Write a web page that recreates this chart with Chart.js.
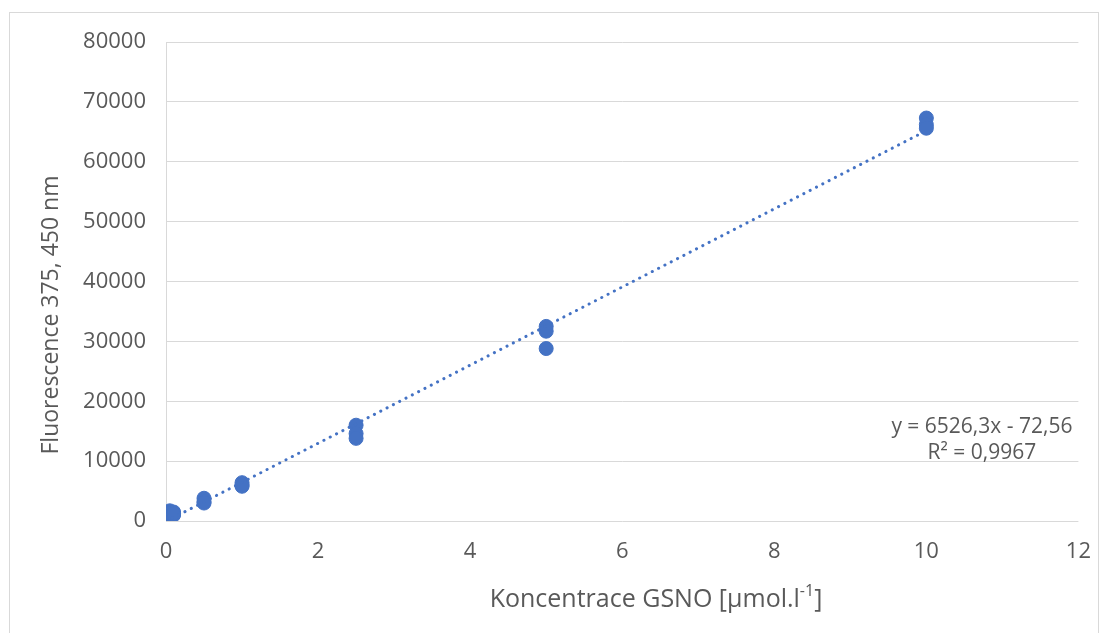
<!DOCTYPE html>
<html>
<head>
<meta charset="utf-8">
<script src="https://cdn.jsdelivr.net/npm/chart.js@4"></script>
<style>
  html, body { margin: 0; padding: 0; background: #fff; }
  #wrap { width: 1109px; height: 633px; }
</style>
</head>
<body>
<div id="wrap"><canvas id="chart"></canvas></div>
<script>
// measured points: concentration (µmol/l) and fluorescence
const concX = [0, 0, 0, 0.05, 0.05, 0.1, 0.1, 0.1, 0.5, 0.5, 0.5, 1, 1, 1, 2.5, 2.5, 2.5, 5, 5, 5, 10, 10, 10];
const fluorY = [200, 600, 900, 1700, 1300, 1500, 1000, 1200, 3800, 3200, 3000, 6400, 6000, 5800, 16000, 14600, 13800, 32500, 31700, 28800, 67300, 66200, 65600];

// linear trendline endpoints (y = 6526,3x - 72,56)
const trendX = [0, 10];
const trendY = [-73, 65190];

const xTicks = [0, 2, 4, 6, 8, 10, 12];
const yTicks = [0, 10000, 20000, 30000, 40000, 50000, 60000, 70000, 80000];

const eqLines = ['y = 6526,3x - 72,56', 'R\u00B2 = 0,9967'];
const yTitle = 'Fluorescence 375, 450 nm';
const xTitle = ['Koncentrace GSNO [\u00B5mol.l', '-1', ']'];

const blue = '#4472C4';
const grey = '#595959';
const gridCol = '#d9d9d9';
const fontFam = '"Open Sans", "Liberation Sans", sans-serif';

const points = concX.map((x, i) => ({x: x, y: fluorY[i]}));
const trend = trendX.map((x, i) => ({x: x, y: trendY[i]}));

const frame = {
  id: 'frame',
  beforeDraw(chart) {
    const c = chart.ctx;
    c.save();
    c.fillStyle = '#fff';
    c.fillRect(0, 0, chart.width, chart.height);
    c.strokeStyle = gridCol;
    c.lineWidth = 1;
    c.strokeRect(9.5, 12.5, 1089, 640);
    c.restore();
  },
  afterDraw(chart) {
    const c = chart.ctx;
    const area = chart.chartArea;
    c.save();
    c.fillStyle = grey;

    // trendline equation
    c.font = '21px ' + fontFam;
    c.textBaseline = 'middle';
    c.textAlign = 'right';
    c.fillText(eqLines[0], area.right - 6, 427);
    c.textAlign = 'center';
    const w = c.measureText(eqLines[0]).width;
    c.fillText(eqLines[1], area.right - 6 - w / 2, 453);

    // y axis title
    c.save();
    c.translate(51, 315);
    c.rotate(-Math.PI / 2);
    c.font = '23px ' + fontFam;
    c.textAlign = 'center';
    c.fillText(yTitle, 0, 0);
    c.restore();

    // x axis title with superscript
    c.textAlign = 'left';
    c.font = '25px ' + fontFam;
    const w0 = c.measureText(xTitle[0]).width;
    const w2 = c.measureText(xTitle[2]).width;
    c.font = '16px ' + fontFam;
    const w1 = c.measureText(xTitle[1]).width;
    let x = 656 - (w0 + w1 + w2) / 2;
    c.font = '25px ' + fontFam;
    c.fillText(xTitle[0], x, 600);
    x += w0;
    c.font = '16px ' + fontFam;
    c.fillText(xTitle[1], x, 591);
    x += w1;
    c.font = '25px ' + fontFam;
    c.fillText(xTitle[2], x, 600);
    c.restore();
  }
};

new Chart(document.getElementById('chart'), {
  type: 'scatter',
  data: {
    datasets: [
      {
        type: 'line',
        label: 'Trend',
        data: trend,
        borderColor: blue,
        borderWidth: 3,
        borderDash: [0.1, 7],
        borderCapStyle: 'round',
        pointRadius: 0,
        fill: false,
        tension: 0
      },
      {
        label: 'Fluorescence',
        data: points,
        backgroundColor: blue,
        borderColor: blue,
        pointRadius: 7,
        pointHoverRadius: 7
      }
    ]
  },
  options: {
    responsive: true,
    maintainAspectRatio: false,
    animation: false,
    layout: { padding: { left: 0, top: 42, right: 28, bottom: 0 } },
    plugins: {
      legend: { display: false },
      tooltip: { enabled: false }
    },
    scales: {
      x: {
        type: 'linear',
        min: 0,
        max: 12,
        afterBuildTicks: (s) => { s.ticks = xTicks.map(v => ({value: v})); },
        afterFit: (s) => { s.height = 112; },
        grid: { display: false, drawTicks: false },
        border: { display: false },
        ticks: { color: grey, font: { family: fontFam, size: 22 }, padding: 18 }
      },
      y: {
        min: 0,
        max: 80000,
        afterBuildTicks: (s) => { s.ticks = yTicks.map(v => ({value: v})); },
        afterFit: (s) => { s.width = 166; },
        grid: { color: gridCol, lineWidth: 1, drawTicks: false },
        border: { display: true, color: gridCol },
        ticks: { color: grey, font: { family: fontFam, size: 22 }, padding: 20, callback: (v) => String(v) }
      }
    }
  },
  plugins: [frame]
});
</script>
</body>
</html>
